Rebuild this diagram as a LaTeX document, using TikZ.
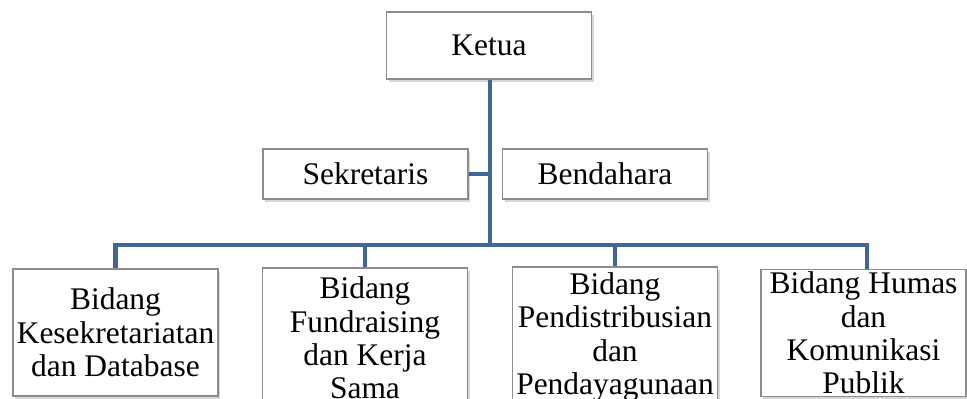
\documentclass[tikz,border=0pt]{standalone}
\usepackage{fontspec}
\setmainfont{Liberation Serif}
\usetikzlibrary{shadows}
\definecolor{linkblue}{HTML}{3F6699}
\begin{document}
\begin{tikzpicture}[x=0.75pt,y=-0.75pt,
  box/.style={draw=black!45, line width=0.9pt, fill=white, align=center,
    minimum width=153.75pt, inner xsep=1pt, inner ysep=2pt,
    font=\fontsize{23.6}{25}\selectfont,
    drop shadow={shadow xshift=1.6pt, shadow yshift=-2pt, opacity=0.35, fill=black!45}},
  link/.style={draw=linkblue, line width=3.4pt}]
\useasboundingbox (0,0) rectangle (967,399);
\clip (0,0) rectangle (967,399);
\node[box, minimum height=50.25pt] (ketua) at (489,45.5) {Ketua};
\node[box, minimum height=37.5pt] (sekretaris) at (365.5,174) {Sekretaris};
\node[box, minimum height=37.5pt] (bendahara) at (605,174) {Bendahara};
\node[box, minimum height=95.25pt] (b1) at (115.5,332.5) {Bidang\\Kesekretariatan\\dan Database};
\node[box, minimum height=105pt] (b2) at (365,338) {Bidang\\Fundraising\\dan Kerja\\Sama};
\node[box, minimum height=105pt] (b3) at (615,337) {Bidang\\Pendistribusian\\dan\\Pendayagunaan};
\node[box, minimum height=94.5pt] (b4) at (863.5,333) {Bidang Humas\\dan\\Komunikasi\\Publik};
\coordinate (hub) at (490,245);
\coordinate (sek) at (490,174);
\draw[link] (ketua.south -| hub) -- (hub);
\draw[link] (sekretaris.east) -- (sek);
\draw[link] (hub) -| (b1.north);
\draw[link] (hub) -| (b2.north);
\draw[link] (hub) -| (b3.north);
\draw[link] (hub) -| ([xshift=2.6pt]b4.north);
\end{tikzpicture}
\end{document}
